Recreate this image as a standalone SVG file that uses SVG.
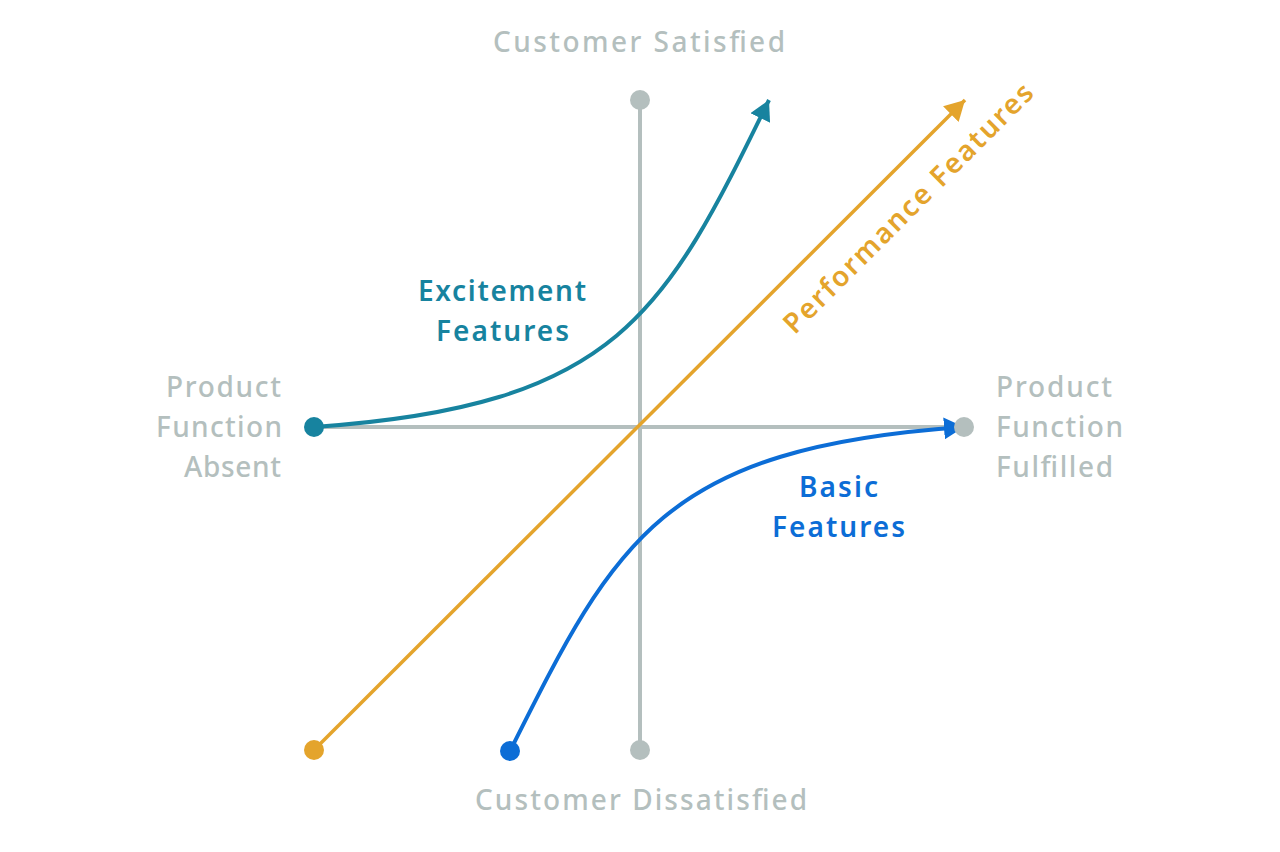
<svg xmlns="http://www.w3.org/2000/svg" width="1280" height="852" viewBox="0 0 1280 852">
  <style>
    text { font-family: "Noto Sans", "Liberation Sans", sans-serif; font-size: 28px; }
    .axis-label { fill: #b4bfbe; font-weight: 500; }
    .teal-label { fill: #17839f; font-weight: 600; }
    .blue-label { fill: #0c6dd6; font-weight: 600; }
    .orange-label { fill: #e4a42c; font-weight: 600; }
    .axis { stroke: #b4bfbe; stroke-width: 4; fill: none; }
    .curve { fill: none; stroke-width: 4; }
  </style>
  <defs>
    <marker id="ah-teal" viewBox="0 0 20 22" refX="20" refY="11" markerWidth="20" markerHeight="22" markerUnits="userSpaceOnUse" orient="auto">
      <path d="M0,0 L20,11 L0,22 z" fill="#17839f"/>
    </marker>
    <marker id="ah-blue" viewBox="0 0 20 22" refX="20" refY="11" markerWidth="20" markerHeight="22" markerUnits="userSpaceOnUse" orient="auto">
      <path d="M0,0 L20,11 L0,22 z" fill="#0c6dd6"/>
    </marker>
    <marker id="ah-orange" viewBox="0 0 20 22" refX="20" refY="11" markerWidth="20" markerHeight="22" markerUnits="userSpaceOnUse" orient="auto">
      <path d="M0,0 L20,11 L0,22 z" fill="#e4a42c"/>
    </marker>
  </defs>
  <rect width="1280" height="852" fill="#ffffff"/>

  <g id="connectors">
    <line class="axis" x1="640" y1="100" x2="640" y2="750"/>
    <line class="axis" x1="314" y1="427" x2="964" y2="427"/>
    <line x1="314" y1="750" x2="965" y2="100" stroke="#e4a42c" stroke-width="3.5" marker-end="url(#ah-orange)"/>
    <path class="curve" stroke="#17839f" d="M314,427 C620,406 665,312 769,100" marker-end="url(#ah-teal)"/>
    <path class="curve" stroke="#0c6dd6" d="M510,751 C615,542 660,448 964,427" marker-end="url(#ah-blue)"/>
  </g>

  <g id="node-satisfied">
    <circle cx="640" cy="100" r="10" fill="#b4bfbe"/>
    <text class="axis-label" x="493" y="52" textLength="292">Customer Satisfied</text>
  </g>
  <g id="node-dissatisfied">
    <circle cx="640" cy="750" r="10" fill="#b4bfbe"/>
    <text class="axis-label" x="475" y="810" textLength="332">Customer Dissatisfied</text>
  </g>
  <g id="node-absent">
    <text class="axis-label" x="166" y="397" textLength="115">Product</text>
    <text class="axis-label" x="156" y="437" textLength="126">Function</text>
    <text class="axis-label" x="184" y="477" textLength="97">Absent</text>
  </g>
  <g id="node-fulfilled">
    <circle cx="964" cy="427" r="10" fill="#b4bfbe"/>
    <text class="axis-label" x="996" y="397" textLength="116">Product</text>
    <text class="axis-label" x="996" y="437" textLength="127">Function</text>
    <text class="axis-label" x="996" y="477" textLength="117">Fulfilled</text>
  </g>
  <g id="node-excitement">
    <circle cx="314" cy="427" r="10" fill="#17839f"/>
    <text class="teal-label" x="418" y="301" textLength="168">Excitement</text>
    <text class="teal-label" x="436" y="341" textLength="133">Features</text>
  </g>
  <g id="node-basic">
    <circle cx="510" cy="751" r="10" fill="#0c6dd6"/>
    <text class="blue-label" x="799" y="497" textLength="79">Basic</text>
    <text class="blue-label" x="772" y="537" textLength="133">Features</text>
  </g>
  <g id="node-performance">
    <circle cx="314" cy="750" r="10" fill="#e4a42c"/>
    <text class="orange-label" x="-170" y="0" textLength="340" transform="translate(915,215) rotate(-45)">Performance Features</text>
  </g>
</svg>
